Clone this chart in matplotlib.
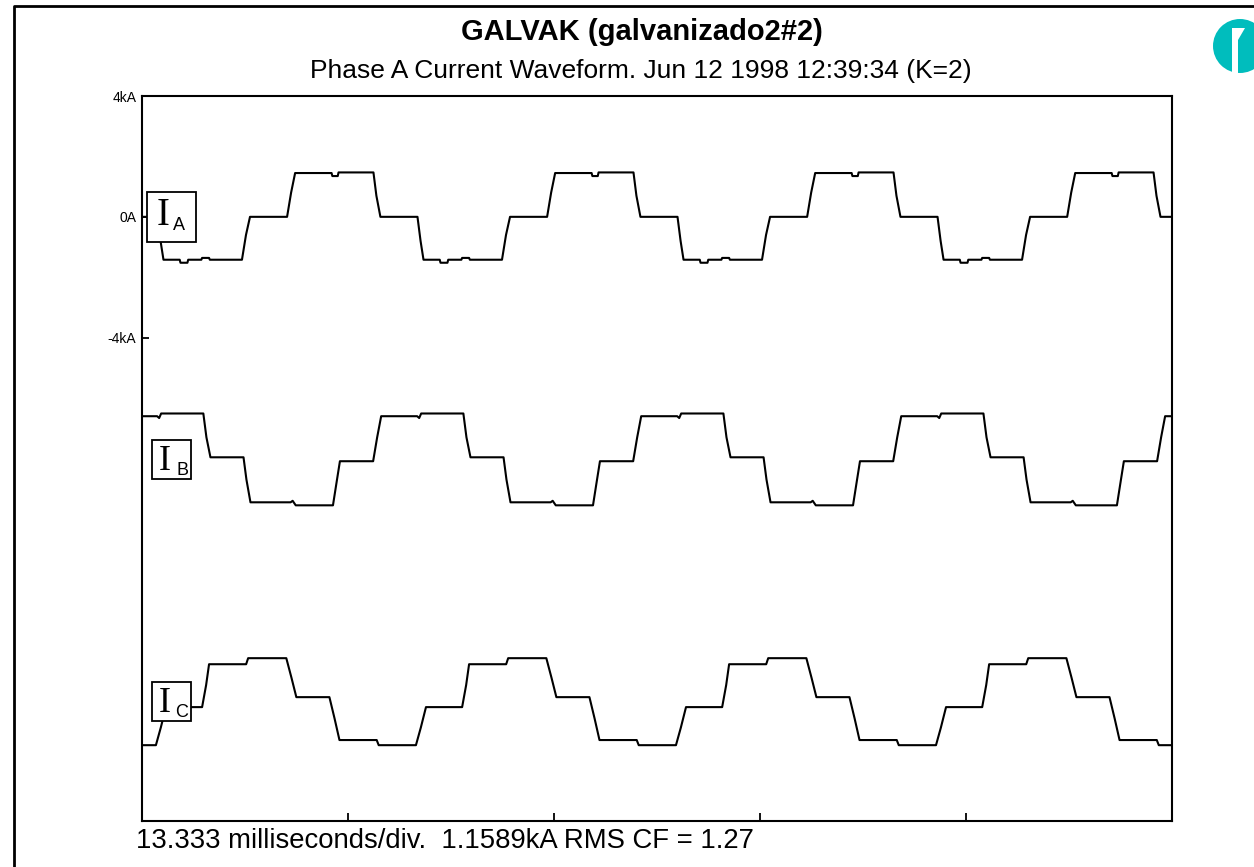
import matplotlib
matplotlib.use('Agg')
import matplotlib.pyplot as plt
from matplotlib.patches import Rectangle, Ellipse, Polygon
from matplotlib.lines import Line2D
import numpy as np

plt.rcParams['font.family'] = 'Liberation Sans'

# --- waveform vertices (time in ms, current in kA) ---
t_a = [0, 1.00, 1.20, 1.39, 2.44, 2.49, 2.94, 2.99, 3.84, 3.89, 4.34, 4.39,
       6.47, 6.73, 6.99, 9.39, 9.65, 9.91, 12.27, 12.32, 12.67, 12.72, 14.98, 15.17,
       15.43, 17.83, 18.03, 18.22, 19.27, 19.32, 19.77, 19.82, 20.67, 20.72, 21.17, 21.22,
       23.30, 23.56, 23.82, 26.22, 26.48, 26.74, 29.10, 29.15, 29.50, 29.55, 31.81, 32.00,
       32.26, 34.66, 34.86, 35.05, 36.10, 36.15, 36.60, 36.65, 37.50, 37.55, 38.00, 38.05,
       40.13, 40.39, 40.65, 43.05, 43.31, 43.57, 45.93, 45.98, 46.33, 46.38, 48.64, 48.83,
       49.09, 51.49, 51.69, 51.88, 52.93, 52.98, 53.43, 53.48, 54.33, 54.38, 54.83, 54.88,
       56.96, 57.22, 57.48, 59.88, 60.14, 60.40, 62.76, 62.81, 63.16, 63.21, 65.47, 65.66,
       65.92, 66.67]
i_a = [0, 0, -0.80, -1.42, -1.42, -1.52, -1.52, -1.42, -1.42, -1.36, -1.36, -1.42,
       -1.42, -0.60, 0.00, 0.00, 0.80, 1.45, 1.45, 1.35, 1.35, 1.47, 1.47, 0.70,
       0.00, 0.00, -0.80, -1.42, -1.42, -1.52, -1.52, -1.42, -1.42, -1.36, -1.36, -1.42,
       -1.42, -0.60, 0.00, 0.00, 0.80, 1.45, 1.45, 1.35, 1.35, 1.47, 1.47, 0.70,
       0.00, 0.00, -0.80, -1.42, -1.42, -1.52, -1.52, -1.42, -1.42, -1.36, -1.36, -1.42,
       -1.42, -0.60, 0.00, 0.00, 0.80, 1.45, 1.45, 1.35, 1.35, 1.47, 1.47, 0.70,
       0.00, 0.00, -0.80, -1.42, -1.42, -1.52, -1.52, -1.42, -1.42, -1.36, -1.36, -1.42,
       -1.42, -0.60, 0.00, 0.00, 0.80, 1.45, 1.45, 1.35, 1.35, 1.47, 1.47, 0.70,
       0.00, 0.00]

t_b = [0, 0.98, 1.11, 1.24, 3.97, 4.17, 4.43, 6.57, 6.76, 7.02, 9.62, 9.75, 9.95,
       12.36, 12.59, 12.81, 14.96, 15.22, 15.48, 17.81, 17.94, 18.07, 20.80, 21.00, 21.26,
       23.40, 23.59, 23.85, 26.45, 26.58, 26.78,
       29.19, 29.42, 29.64, 31.79, 32.05, 32.31, 34.64, 34.77, 34.90, 37.63, 37.83, 38.09,
       40.23, 40.42, 40.68, 43.28, 43.41, 43.61,
       46.02, 46.25, 46.47, 48.62, 48.88, 49.14, 51.47, 51.60, 51.73, 54.46, 54.66, 54.92,
       57.06, 57.25, 57.51, 60.11, 60.24, 60.44,
       63.10, 63.33, 63.55, 65.70, 65.96, 66.22, 66.67]
i_b = [1.40, 1.40, 1.34, 1.49, 1.49, 0.70, 0.04, 0.04, -0.70, -1.45, -1.45, -1.40, -1.55,
       -1.55, -0.80, -0.09, -0.09, 0.70, 1.40, 1.40, 1.34, 1.49, 1.49, 0.70, 0.04,
       0.04, -0.70, -1.45, -1.45, -1.40, -1.55,
       -1.55, -0.80, -0.09, -0.09, 0.70, 1.40, 1.40, 1.34, 1.49, 1.49, 0.70, 0.04,
       0.04, -0.70, -1.45, -1.45, -1.40, -1.55,
       -1.55, -0.80, -0.09, -0.09, 0.70, 1.40, 1.40, 1.34, 1.49, 1.49, 0.70, 0.04,
       0.04, -0.70, -1.45, -1.45, -1.40, -1.55,
       -1.55, -0.80, -0.09, -0.09, 0.70, 1.40, 1.40]

t_c = [0, 0.90, 1.22, 1.55, 3.89, 4.15, 4.34, 6.74, 6.87, 9.34, 9.67, 9.99, 12.13, 12.46,
       12.78, 15.19, 15.32,
       17.73, 18.05, 18.38, 20.72, 20.98, 21.17, 23.57, 23.70, 26.17, 26.50, 26.82, 28.96,
       29.29, 29.61, 32.02, 32.15,
       34.56, 34.88, 35.21, 37.55, 37.81, 38.00, 40.40, 40.53, 43.00, 43.33, 43.65, 45.79,
       46.12, 46.44, 48.85, 48.98,
       51.39, 51.71, 52.04, 54.38, 54.64, 54.83, 57.23, 57.36, 59.83, 60.16, 60.48, 62.62,
       62.95, 63.27, 65.68, 65.81, 66.67]
i_c = [-1.49,
       -1.49, -0.90, -0.23, -0.23, 0.50, 1.19, 1.19, 1.39, 1.39, 0.75, 0.10, 0.10, -0.60,
       -1.32, -1.32, -1.49,
       -1.49, -0.90, -0.23, -0.23, 0.50, 1.19, 1.19, 1.39, 1.39, 0.75, 0.10, 0.10, -0.60,
       -1.32, -1.32, -1.49,
       -1.49, -0.90, -0.23, -0.23, 0.50, 1.19, 1.19, 1.39, 1.39, 0.75, 0.10, 0.10, -0.60,
       -1.32, -1.32, -1.49,
       -1.49, -0.90, -0.23, -0.23, 0.50, 1.19, 1.19, 1.39, 1.39, 0.75, 0.10, 0.10, -0.60,
       -1.32, -1.32, -1.49,
       -1.49]

phase_names = ['A', 'B', 'C']
trace_offsets = [0, -8, -16]          # kA, vertical spacing of the traces
ytick_vals = [4, 0, -4]
ytick_labels = ['4kA', '0A', '-4kA']
ms_per_div = 13.333
n_div = 5

title = 'GALVAK (galvanizado2#2)'
subtitle = 'Phase A Current Waveform. Jun 12 1998 12:39:34 (K=2)'
footer = '13.333 milliseconds/div.  1.1589kA RMS CF = 1.27'

W, H = 1254, 867
def fx(x):
    return x / W
def fy(y):
    return 1 - y / H

fig = plt.figure(figsize=(W / 100, H / 100), dpi=100)
fig.patch.set_facecolor('white')
ax = fig.add_axes([fx(142), fy(821), (1172 - 142) / W, (821 - 96) / H])

traces = [(t_a, i_a), (t_b, i_b), (t_c, i_c)]
for (t, i), off in zip(traces, trace_offsets):
    ax.plot(t, np.asarray(i) + off, color='black', lw=1.5, zorder=2)

ax.set_xlim(0, n_div * ms_per_div)
ax.set_ylim(-20, 4)
ax.set_xticks([ms_per_div * k for k in range(1, n_div)])
ax.set_yticks(ytick_vals)
ax.set_yticklabels(ytick_labels, fontsize=10)
ax.tick_params(axis='x', direction='in', length=6, width=1.3, labelbottom=False)
ax.tick_params(axis='y', direction='in', length=5, width=1.3, pad=4)
for s in ax.spines.values():
    s.set_linewidth(1.5)

# phase label boxes (x0, width in ms; y0, height relative to trace offset in kA)
box_geom = [(0.32, 3.18, -0.83, 1.66), (0.65, 2.52, -0.68, 1.29), (0.65, 2.52, -0.70, 1.30)]
big_i_pos = [(1.36, -0.27), (1.49, -0.38), (1.49, -0.40)]
sub_pos = [(2.39, -0.44), (2.59, -0.55), (2.59, -0.56)]
big_i_size = [28, 26, 26]
for k, name in enumerate(phase_names):
    off = trace_offsets[k]
    x0, w, y0, h = box_geom[k]
    ax.add_patch(Rectangle((x0, off + y0), w, h, facecolor='white', edgecolor='black',
                           lw=1.3, zorder=3))
    ax.text(big_i_pos[k][0], off + big_i_pos[k][1], 'I', family='Liberation Serif',
            fontsize=big_i_size[k], ha='center', va='baseline', zorder=4)
    ax.text(sub_pos[k][0], off + sub_pos[k][1], name, fontsize=13,
            ha='center', va='baseline', zorder=4)

fig.text(fx(642), fy(32), title, fontsize=21, fontweight='bold', ha='center', va='center')
fig.text(fx(641), fy(71), subtitle, fontsize=19, ha='center', va='center')
fig.text(fx(136), fy(841), footer, fontsize=19.8, ha='left', va='center')

# page frame
fig.add_artist(Line2D([fx(14), fx(14), 1.0], [0.0, fy(6), fy(6)], color='black', lw=2,
                      transform=fig.transFigure))

# logo in the top right corner
teal = '#00BDBD'
fig.add_artist(Ellipse((fx(1240), fy(46)), 54 / W, 54 / H, facecolor=teal,
                       edgecolor='none', transform=fig.transFigure))
fig.add_artist(Polygon([(fx(1232), fy(28)), (fx(1245), fy(28)), (fx(1238), fy(40)),
                        (fx(1238), fy(76)), (fx(1232), fy(76))],
                       closed=True, facecolor='white', edgecolor='none',
                       transform=fig.transFigure))

fig.savefig('out.png', dpi=100, facecolor='white')
